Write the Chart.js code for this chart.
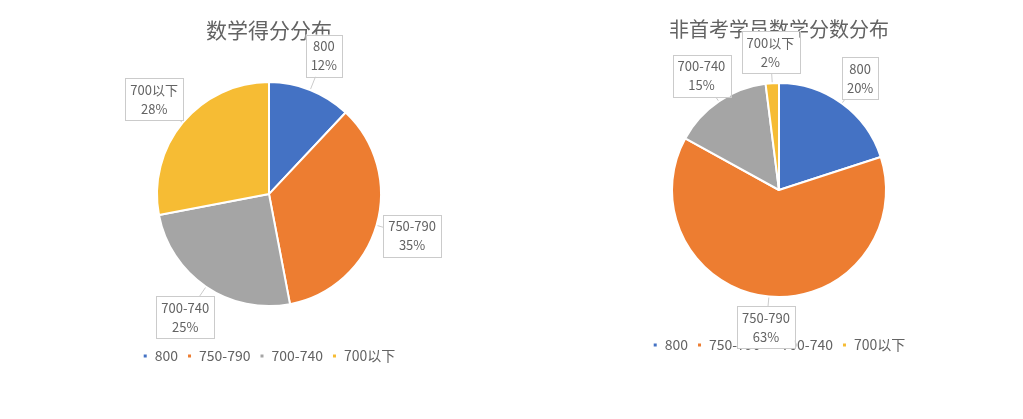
<!DOCTYPE html>
<html>
<head>
<meta charset="utf-8">
<script src="https://cdn.jsdelivr.net/npm/chart.js@4.4.1/dist/chart.umd.min.js"></script>
<style>
  body { margin: 0; background: #fff; width: 1023px; height: 419px; overflow: hidden; position: relative; }
  .pie-box { position: absolute; top: 0; }
</style>
</head>
<body>
<div class="pie-box" style="left:89px;width:360px;height:373px"><canvas id="pieAll"></canvas></div>
<div class="pie-box" style="left:599px;width:360px;height:362px"><canvas id="pieRepeat"></canvas></div>
<script>
// 分数段
const categories = ['800', '750-790', '700-740', '700以下'];
// 全体学员 (%)
const allShares = [12, 35, 25, 28];
// 非首考学员 (%)
const repeatShares = [20, 63, 15, 2];

const titleAll = '数学得分分布';
const titleRepeat = '非首考学员数学分数分布';

const sliceColors = ['#4472C4', '#ED7D31', '#A5A5A5', '#F6BC34'];
const FONT = '"Noto Sans CJK SC", "Noto Sans", sans-serif';
const TEXT = '#636363';

// callout boxes outside each slice
const calloutLabels = {
    id: 'calloutLabels',
    afterDatasetsDraw(chart, args, opts) {
        const ctx = chart.ctx;
        const meta = chart.getDatasetMeta(0);
        const data = chart.data.datasets[0].data;
        ctx.save();
        ctx.font = '13px ' + FONT;
        meta.data.forEach((arc, i) => {
            const p = arc.getProps(['x', 'y', 'startAngle', 'endAngle', 'outerRadius'], true);
            const mid = (p.startAngle + p.endAngle) / 2;
            const cos = Math.cos(mid), sin = Math.sin(mid);
            const lines = [chart.data.labels[i], data[i] + '%'];
            const w = Math.max(...lines.map(t => ctx.measureText(t).width)) + 10;
            const h = 42;
            const d = p.outerRadius + (opts.gap || 34);
            const bx = p.x + cos * d, by = p.y + sin * d;

            // leader from arc edge to box
            const ax = p.x + cos * (p.outerRadius + 1), ay = p.y + sin * (p.outerRadius + 1);
            const dx = ax - bx, dy = ay - by;
            const s = Math.min((w / 2) / Math.abs(dx || 1e-6), (h / 2) / Math.abs(dy || 1e-6));
            if (s < 1) {
                ctx.strokeStyle = '#CBCBCB';
                ctx.lineWidth = 1;
                ctx.beginPath();
                ctx.moveTo(bx + dx * s, by + dy * s);
                ctx.lineTo(ax, ay);
                ctx.stroke();
            }

            ctx.fillStyle = '#fff';
            ctx.strokeStyle = '#CBCBCB';
            ctx.lineWidth = 1;
            ctx.fillRect(bx - w / 2, by - h / 2, w, h);
            ctx.strokeRect(Math.round(bx - w / 2) + 0.5, Math.round(by - h / 2) + 0.5, Math.round(w), h);

            ctx.fillStyle = TEXT;
            ctx.textAlign = 'center';
            ctx.textBaseline = 'middle';
            ctx.fillText(lines[0], bx, by - 9.5);
            ctx.fillText(lines[1], bx, by + 9.5);
        });
        ctx.restore();
    }
};

const makePie = (id, title, values, radius, titleSize, gap, titleGap) => {
    new Chart(document.getElementById(id), {
        type: 'pie',
        data: {
            labels: categories,
            datasets: [{
                data: values,
                backgroundColor: sliceColors,
                borderColor: '#fff',
                borderWidth: 2,
                radius: radius
            }]
        },
        options: {
            responsive: true,
            maintainAspectRatio: false,
            animation: false,
            layout: { padding: 0 },
            plugins: {
                title: {
                    display: true,
                    text: title,
                    color: TEXT,
                    font: { family: FONT, size: titleSize, weight: 'normal' },
                    padding: { top: 17, bottom: titleGap }
                },
                legend: {
                    position: 'bottom',
                    labels: {
                        usePointStyle: true,
                        pointStyle: 'rect',
                        boxWidth: 5,
                        boxHeight: 5,
                        padding: 9,
                        color: TEXT,
                        font: { family: FONT, size: 14 }
                    }
                },
                tooltip: { enabled: false },
                calloutLabels: { gap: gap }
            }
        },
        plugins: [calloutLabels]
    });
};

makePie('pieAll', titleAll, allShares, 112, 21, 37, 6);
makePie('pieRepeat', titleRepeat, repeatShares, 107, 20, 31, 10);
</script>
</body>
</html>
